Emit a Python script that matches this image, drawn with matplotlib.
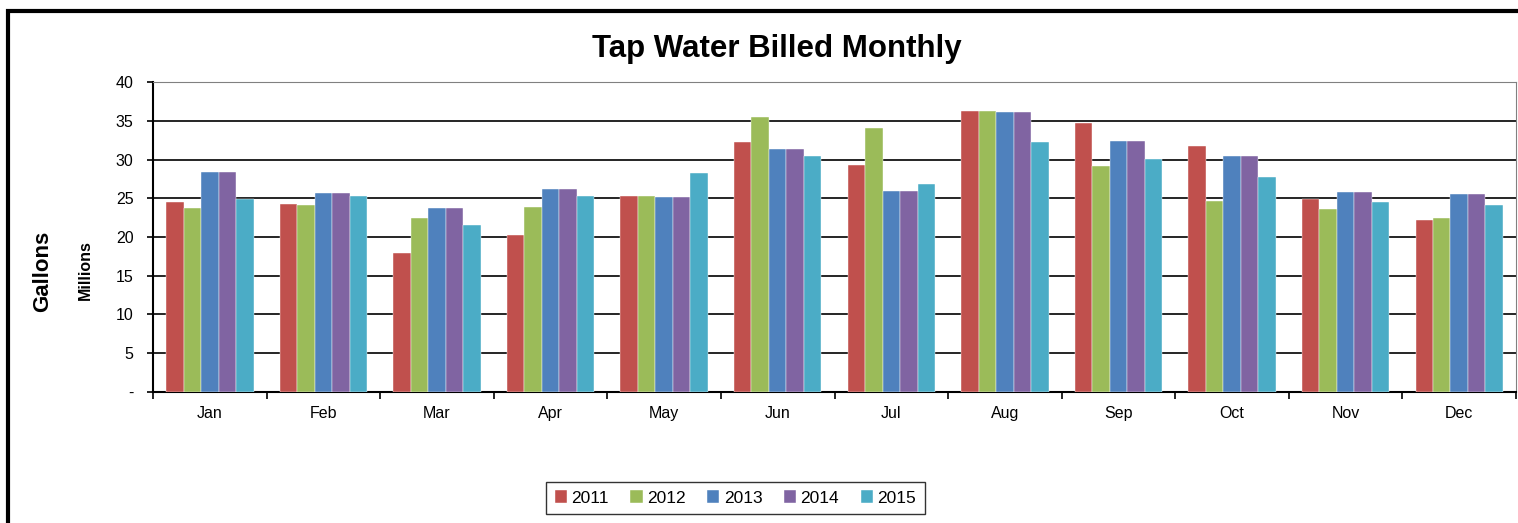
import numpy as np
import matplotlib.pyplot as plt
from matplotlib.patches import Rectangle

plt.rcParams['font.family'] = ['Liberation Sans', 'DejaVu Sans']

months = ['Jan', 'Feb', 'Mar', 'Apr', 'May', 'Jun', 'Jul', 'Aug', 'Sep', 'Oct', 'Nov', 'Dec']
years = ['2011', '2012', '2013', '2014', '2015']
v2011 = [24.5, 24.3, 17.9, 20.2, 25.3, 32.2, 29.3, 36.3, 34.7, 31.7, 24.9, 22.2]
v2012 = [23.7, 24.1, 22.5, 23.9, 25.3, 35.5, 34.1, 36.3, 29.1, 24.7, 23.6, 22.5]
v2013 = [28.4, 25.7, 23.7, 26.2, 25.1, 31.4, 26.0, 36.1, 32.4, 30.5, 25.8, 25.6]
v2014 = [28.4, 25.7, 23.7, 26.2, 25.1, 31.4, 26.0, 36.1, 32.4, 30.5, 25.8, 25.6]
v2015 = [24.9, 25.3, 21.6, 25.3, 28.2, 30.5, 26.8, 32.2, 30.1, 27.8, 24.5, 24.1]
series = [v2011, v2012, v2013, v2014, v2015]
colors = ['#C0504D', '#9BBB59', '#4F81BD', '#8064A2', '#4BACC6']

fig = plt.figure(figsize=(15.18, 5.23), dpi=100)
ax = fig.add_axes([0.1008, 0.2505, 0.8979, 0.5927])

x = np.arange(len(months))
w = 0.77 / 5
for i, (vals, c) in enumerate(zip(series, colors)):
    ax.bar(x - 0.385 + w * (i + 0.5), vals, width=w, color=c, label=years[i],
           edgecolor='white', linewidth=0.3, zorder=3)

ax.set_xlim(-0.5, len(months) - 0.5)
ax.set_ylim(0, 40)
ax.set_yticks(range(0, 41, 5))
ax.set_yticklabels(['-'] + [str(v) for v in range(5, 41, 5)], fontsize=11.5)
ax.set_xticks(x)
ax.set_xticklabels(months, fontsize=11.5)
ax.set_xticks(np.arange(-0.5, len(months)), minor=True)
ax.tick_params(axis='x', which='major', length=0, pad=10)
ax.tick_params(axis='x', which='minor', length=5, width=1.2, direction='out')
ax.tick_params(axis='y', length=4, width=1.2, direction='out', pad=10)
ax.grid(axis='y', color='black', linewidth=1.2, zorder=0)
for s in ['top', 'right']:
    ax.spines[s].set_color('#808080')
for s in ['left', 'bottom']:
    ax.spines[s].set_linewidth(1.5)

fig.text(0.512, 0.906, 'Tap Water Billed Monthly', ha='center', va='center',
         fontsize=22.5, fontweight='bold')
fig.text(0.028, 0.482, 'Gallons', rotation=90, ha='center', va='center',
         fontsize=16, fontweight='bold')
fig.text(0.056, 0.484, 'Millions', rotation=90, ha='center', va='center',
         fontsize=11.5, fontweight='bold')

leg = fig.legend(loc='center', bbox_to_anchor=(0.4845, 0.0478), ncol=5, fontsize=12.5,
                 frameon=True, fancybox=False, edgecolor='black', handlelength=0.7,
                 handleheight=0.7, handletextpad=0.25, columnspacing=1.25,
                 borderpad=0.5)
leg.get_frame().set_linewidth(1.0)

fig.patches.append(Rectangle((0.0053, -0.1), 1.2, 1.0787, transform=fig.transFigure,
                             fill=False, edgecolor='black', linewidth=3, clip_on=False))

fig.savefig('out.png', dpi=100)
